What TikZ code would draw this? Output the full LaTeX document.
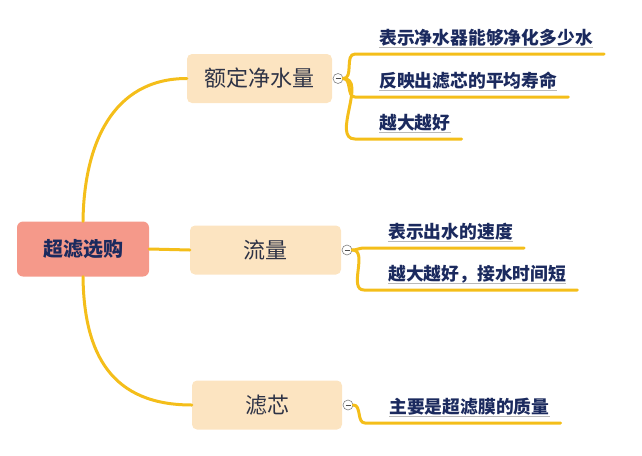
\documentclass[tikz,border=0pt]{standalone}
\usepackage{fontspec}
\setmainfont{Noto Sans CJK SC}
\usepackage{tikz}
\usetikzlibrary{positioning}
\definecolor{rootred}{HTML}{F5998A}
\definecolor{topicpeach}{HTML}{FCE4C1}
\definecolor{branchgold}{HTML}{F4BE1A}
\definecolor{leafnavy}{HTML}{1B2A5E}
\definecolor{topicink}{HTML}{2E3346}

\begin{document}
\begin{tikzpicture}[x=1pt, y=-1pt,
    root/.style={rectangle, fill=rootred, text=leafnavy, minimum width=132pt, minimum height=55pt,
                 rounded corners=6pt, font=\fontsize{20}{24}\selectfont\bfseries},
    topic/.style={rectangle, fill=topicpeach, text=topicink, minimum height=49pt,
                  rounded corners=5pt, font=\fontsize{22}{26}\selectfont},
    leaf/.style={anchor=west, inner sep=0pt, text=leafnavy, font=\fontsize{17.8}{21}\selectfont\bfseries},
    branch/.style={draw=branchgold, line width=3pt, line cap=round},
    toggle/.style={circle, draw=gray, fill=white, minimum size=10pt, inner sep=0pt, line width=0.6pt,
                   path picture={\draw[black!70, line width=0.7pt]
                     ([xshift=2.5pt]path picture bounding box.west) -- ([xshift=-2.5pt]path picture bounding box.east);}},
    uline/.style={draw=gray!55, line width=0.8pt}
]
    \useasboundingbox (0,0) rectangle (642,455);

    % Root
    \node[root] (root) at (83,249) {超滤选购};

    % Topics
    \node[topic, minimum width=145pt] (rated) at (259.5,78.5) {额定净水量};
    \node[topic, minimum width=151pt] (flow) at (265.5,250) {流量};
    \node[topic, minimum width=150pt] (core) at (267,405) {滤芯};

    % Connections to topics
    \draw[branch] (root.north) .. controls (84,145) and (112,78.5) .. (rated.west);
    \draw[branch] (root.east) -- (flow.west);
    \draw[branch] (root.south) .. controls (84,355) and (112,405) .. (core.west);

    % Toggles
    \node[toggle, right=0.5pt of rated] (tgrated) {};
    \node[toggle, right=0.5pt of flow] (tgflow) {};
    \node[toggle, right=0.5pt of core] (tgcore) {};

    % Leaves
    \node[leaf] (rated1) at (379,38) {表示净水器能够净化多少水};
    \node[leaf] (rated2) at (379,81) {反映出滤芯的平均寿命};
    \node[leaf] (rated3) at (379,123) {越大越好};
    \node[leaf] (flow1) at (388,232) {表示出水的速度};
    \node[leaf] (flow2) at (388,274) {越大越好，接水时间短};
    \node[leaf] (core1) at (389,407) {主要是超滤膜的质量};

    % Branches to leaves
    \foreach \tg/\lf in {tgrated/rated1, tgrated/rated2, tgrated/rated3, tgflow/flow1, tgflow/flow2, tgcore/core1} {
        \draw[branch] (\tg.east) to[out=0, in=180] ([xshift=-24pt, yshift=-16pt]\lf.west)
                      -- ([xshift=11pt, yshift=-16pt]\lf.east);
        \draw[uline] ([yshift=-9pt]\lf.west) -- ([yshift=-9pt]\lf.east);
    }
\end{tikzpicture}
\end{document}
